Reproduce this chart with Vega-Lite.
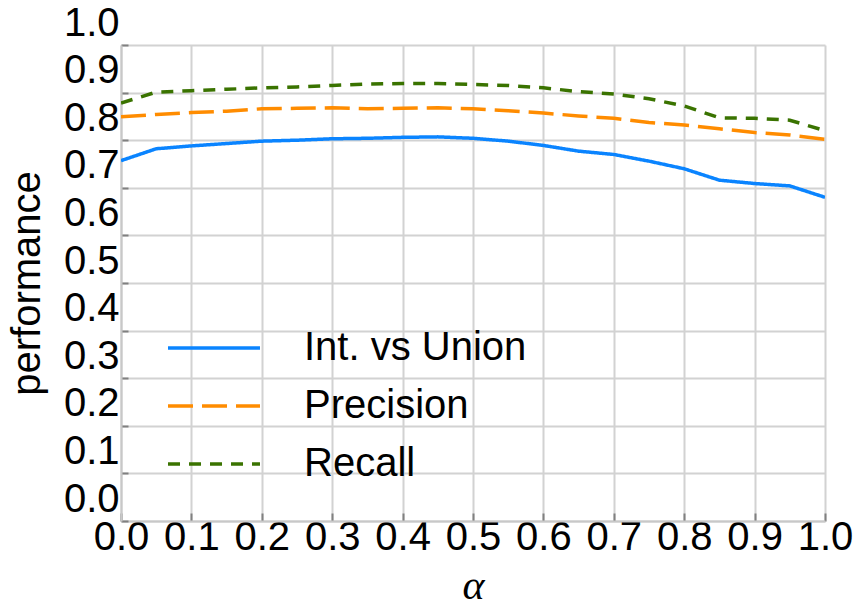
{
  "$schema": "https://vega.github.io/schema/vega-lite/v6.json",
  "width": 704,
  "height": 476,
  "autosize": "none",
  "padding": {"left": 121, "top": 45, "right": 31, "bottom": 86},
  "background": "white",
  "config": {
    "view": {"stroke": null},
    "font": "Liberation Sans"
  },
  "data": {
    "values": [
      {"alpha": 0.00, "series": "Int. vs Union", "value": 0.757},
      {"alpha": 0.05, "series": "Int. vs Union", "value": 0.782},
      {"alpha": 0.10, "series": "Int. vs Union", "value": 0.788},
      {"alpha": 0.15, "series": "Int. vs Union", "value": 0.793},
      {"alpha": 0.20, "series": "Int. vs Union", "value": 0.798},
      {"alpha": 0.25, "series": "Int. vs Union", "value": 0.800},
      {"alpha": 0.30, "series": "Int. vs Union", "value": 0.803},
      {"alpha": 0.35, "series": "Int. vs Union", "value": 0.804},
      {"alpha": 0.40, "series": "Int. vs Union", "value": 0.806},
      {"alpha": 0.45, "series": "Int. vs Union", "value": 0.807},
      {"alpha": 0.50, "series": "Int. vs Union", "value": 0.804},
      {"alpha": 0.55, "series": "Int. vs Union", "value": 0.798},
      {"alpha": 0.60, "series": "Int. vs Union", "value": 0.789},
      {"alpha": 0.65, "series": "Int. vs Union", "value": 0.777},
      {"alpha": 0.70, "series": "Int. vs Union", "value": 0.770},
      {"alpha": 0.75, "series": "Int. vs Union", "value": 0.756},
      {"alpha": 0.80, "series": "Int. vs Union", "value": 0.740},
      {"alpha": 0.85, "series": "Int. vs Union", "value": 0.716},
      {"alpha": 0.90, "series": "Int. vs Union", "value": 0.709},
      {"alpha": 0.95, "series": "Int. vs Union", "value": 0.704},
      {"alpha": 1.00, "series": "Int. vs Union", "value": 0.680},
      {"alpha": 0.00, "series": "Precision", "value": 0.849},
      {"alpha": 0.05, "series": "Precision", "value": 0.854},
      {"alpha": 0.10, "series": "Precision", "value": 0.858},
      {"alpha": 0.15, "series": "Precision", "value": 0.861},
      {"alpha": 0.20, "series": "Precision", "value": 0.866},
      {"alpha": 0.25, "series": "Precision", "value": 0.867},
      {"alpha": 0.30, "series": "Precision", "value": 0.868},
      {"alpha": 0.35, "series": "Precision", "value": 0.866},
      {"alpha": 0.40, "series": "Precision", "value": 0.867},
      {"alpha": 0.45, "series": "Precision", "value": 0.868},
      {"alpha": 0.50, "series": "Precision", "value": 0.866},
      {"alpha": 0.55, "series": "Precision", "value": 0.862},
      {"alpha": 0.60, "series": "Precision", "value": 0.857},
      {"alpha": 0.65, "series": "Precision", "value": 0.851},
      {"alpha": 0.70, "series": "Precision", "value": 0.846},
      {"alpha": 0.75, "series": "Precision", "value": 0.837},
      {"alpha": 0.80, "series": "Precision", "value": 0.832},
      {"alpha": 0.85, "series": "Precision", "value": 0.824},
      {"alpha": 0.90, "series": "Precision", "value": 0.816},
      {"alpha": 0.95, "series": "Precision", "value": 0.811},
      {"alpha": 1.00, "series": "Precision", "value": 0.802},
      {"alpha": 0.00, "series": "Recall", "value": 0.878},
      {"alpha": 0.05, "series": "Recall", "value": 0.901},
      {"alpha": 0.10, "series": "Recall", "value": 0.904},
      {"alpha": 0.15, "series": "Recall", "value": 0.907},
      {"alpha": 0.20, "series": "Recall", "value": 0.910},
      {"alpha": 0.25, "series": "Recall", "value": 0.912},
      {"alpha": 0.30, "series": "Recall", "value": 0.915},
      {"alpha": 0.35, "series": "Recall", "value": 0.918},
      {"alpha": 0.40, "series": "Recall", "value": 0.919},
      {"alpha": 0.45, "series": "Recall", "value": 0.919},
      {"alpha": 0.50, "series": "Recall", "value": 0.917},
      {"alpha": 0.55, "series": "Recall", "value": 0.915},
      {"alpha": 0.60, "series": "Recall", "value": 0.910},
      {"alpha": 0.65, "series": "Recall", "value": 0.902},
      {"alpha": 0.70, "series": "Recall", "value": 0.897},
      {"alpha": 0.75, "series": "Recall", "value": 0.887},
      {"alpha": 0.80, "series": "Recall", "value": 0.872},
      {"alpha": 0.85, "series": "Recall", "value": 0.847},
      {"alpha": 0.90, "series": "Recall", "value": 0.846},
      {"alpha": 0.95, "series": "Recall", "value": 0.842},
      {"alpha": 1.00, "series": "Recall", "value": 0.820}
    ]
  },
  "mark": {"type": "line", "strokeWidth": 3.5, "clip": true},
  "encoding": {
    "x": {
      "field": "alpha",
      "type": "quantitative",
      "scale": {"domain": [0, 1], "nice": false, "zero": false},
      "axis": {
        "values": [0, 0.1, 0.2, 0.3, 0.4, 0.5, 0.6, 0.7, 0.8, 0.9, 1.0],
        "format": ".1f",
        "labelFontSize": 40,
        "labelColor": "#000000",
        "labelFont": "Liberation Sans",
        "labelPadding": 4,
        "labelFlush": false,
        "labelOverlap": false,
        "tickSize": -8,
        "tickColor": "#808080",
        "tickWidth": 2,
        "domainColor": "#c8c8c8",
        "domainWidth": 2,
        "gridColor": "#d2d2d2",
        "gridWidth": 2,
        "title": "α",
        "titleFont": "Liberation Serif",
        "titleFontStyle": "italic",
        "titleFontWeight": "normal",
        "titleFontSize": 42,
        "titleColor": "#000000",
        "titleX": 352,
        "titleY": 77,
        "titleBaseline": "alphabetic",
        "titleAlign": "center"
      }
    },
    "y": {
      "field": "value",
      "type": "quantitative",
      "scale": {"domain": [0, 1], "nice": false, "zero": false},
      "axis": {
        "values": [0, 0.1, 0.2, 0.3, 0.4, 0.5, 0.6, 0.7, 0.8, 0.9, 1.0],
        "format": ".1f",
        "labelFontSize": 40,
        "labelColor": "#000000",
        "labelFont": "Liberation Sans",
        "labelPadding": 9,
        "labelOffset": -22,
        "labelBaseline": "middle",
        "labelFlush": false,
        "labelOverlap": false,
        "tickSize": -7,
        "tickColor": "#808080",
        "tickWidth": 2,
        "domainColor": "#c8c8c8",
        "domainWidth": 2,
        "gridColor": "#d2d2d2",
        "gridWidth": 2,
        "title": "performance",
        "titleFont": "Liberation Sans",
        "titleFontWeight": "normal",
        "titleFontSize": 40,
        "titleColor": "#000000",
        "titleAngle": -90,
        "titleX": -94,
        "titleY": 238,
        "titleAlign": "center",
        "titleBaseline": "middle"
      }
    },
    "color": {
      "field": "series",
      "type": "nominal",
      "scale": {
        "domain": ["Int. vs Union", "Precision", "Recall"],
        "range": ["#0A84FF", "#FF8C00", "#3A7300"]
      },
      "legend": {
        "title": null,
        "orient": "none",
        "legendX": 73,
        "legendY": 283,
        "symbolType": "M-3,0H3",
        "symbolSize": 940,
        "symbolStrokeWidth": 3.5,
        "labelFontSize": 40,
        "labelFont": "Liberation Sans",
        "labelColor": "#000000",
        "labelOffset": 70,
        "rowPadding": 18,
        "padding": 0,
        "labelLimit": 400
      }
    },
    "strokeDash": {
      "field": "series",
      "type": "nominal",
      "scale": {
        "domain": ["Int. vs Union", "Precision", "Recall"],
        "range": [[1, 0], [25, 9], [12, 9]]
      },
      "legend": {
        "title": null,
        "orient": "none",
        "legendX": 73,
        "legendY": 283,
        "symbolType": "M-3,0H3",
        "symbolSize": 940,
        "symbolStrokeWidth": 3.5,
        "labelFontSize": 40,
        "labelFont": "Liberation Sans",
        "labelColor": "#000000",
        "labelOffset": 70,
        "rowPadding": 18,
        "padding": 0,
        "labelLimit": 400
      }
    }
  }
}
